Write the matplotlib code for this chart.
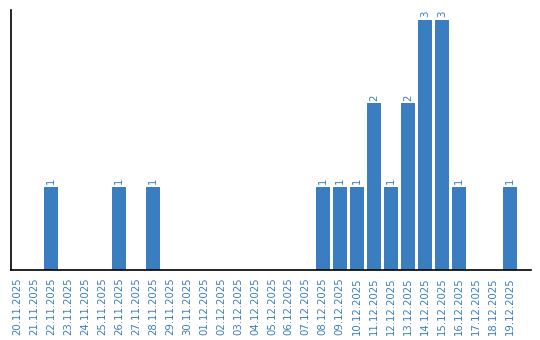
import matplotlib
matplotlib.use("Agg")
import matplotlib.pyplot as plt

OUT_FILE = "out.png"
BLUE = "#3b7dc1"

dates = ["20.11.2025", "21.11.2025", "22.11.2025", "23.11.2025", "24.11.2025",
         "25.11.2025", "26.11.2025", "27.11.2025", "28.11.2025", "29.11.2025",
         "30.11.2025", "01.12.2025", "02.12.2025", "03.12.2025", "04.12.2025",
         "05.12.2025", "06.12.2025", "07.12.2025", "08.12.2025", "09.12.2025",
         "10.12.2025", "11.12.2025", "12.12.2025", "13.12.2025", "14.12.2025",
         "15.12.2025", "16.12.2025", "17.12.2025", "18.12.2025", "19.12.2025"]
counts = [0, 0, 1, 0, 0, 0, 1, 0, 1, 0,
          0, 0, 0, 0, 0, 0, 0, 0, 1, 1,
          1, 2, 1, 2, 3, 3, 1, 0, 0, 1]

fig = plt.figure(figsize=(5.4, 3.4), dpi=100)
ax = fig.add_axes([0.0204, 0.206, 0.9626, 0.7646])

x = list(range(len(dates)))
ax.bar(x, counts, width=0.82, color=BLUE)

# value labels only for non-empty days
for i, c in zip(x, counts):
    if c > 0:
        ax.text(i, c + 0.03, str(c), rotation=90, ha="center", va="bottom",
                color=BLUE, fontsize=7.3)

ax.set_xticks(x)
ax.set_xticklabels(dates, rotation=90, color=BLUE, fontsize=7.3)
ax.tick_params(axis="x", length=0, pad=5)
ax.set_yticks([])
ax.set_xlim(-0.353, 30.24)
ax.set_ylim(0, 3.12)

for side in ["top", "right"]:
    ax.spines[side].set_visible(False)
for side in ["left", "bottom"]:
    ax.spines[side].set_linewidth(1.2)
    ax.spines[side].set_color("black")

plt.savefig(OUT_FILE, dpi=100)
plt.close("all")
